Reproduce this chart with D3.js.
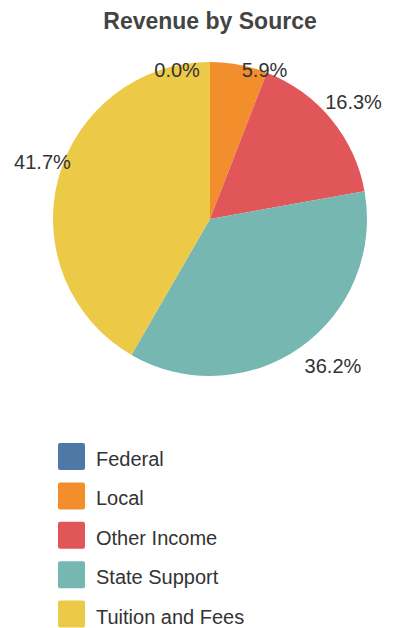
<!DOCTYPE html>
<html lang="en">
<head>
<meta charset="utf-8">
<title>Revenue by Source</title>
<script src="https://d3js.org/d3.v7.min.js"></script>
<style>
  body { margin: 0; background: #fff; }
  svg text { font-family: "Liberation Sans", Arial, sans-serif; fill: #333; }
</style>
</head>
<body>
<script>
var sources = ["Federal", "Local", "Other Income", "State Support", "Tuition and Fees"];
var shares = [0.0, 5.9, 16.3, 36.2, 41.7];
var colors = ["#4e79a7", "#f28e2b", "#e15759", "#76b7b2", "#edc948"];

var width = 396, height = 628;
var cx = 210, cy = 219, radius = 157;

var svg = d3.select("body").append("svg")
    .attr("width", width)
    .attr("height", height);

svg.append("text")
    .attr("x", cx)
    .attr("y", 29)
    .attr("text-anchor", "middle")
    .style("font-size", "23px")
    .style("font-weight", "bold")
    .style("fill", "#444")
    .text("Revenue by Source");

var data = sources.map(function(s, i) { return {name: s, value: shares[i], color: colors[i]}; });

var pie = d3.pie().sort(null).value(function(d) { return d.value; });
var arc = d3.arc().innerRadius(0).outerRadius(radius);
var arcs = pie(data);

var g = svg.append("g").attr("transform", "translate(" + cx + "," + cy + ")");

g.selectAll("path")
    .data(arcs)
  .enter().append("path")
    .attr("d", arc)
    .attr("fill", function(d) { return d.data.color; });

// labels just outside the rim, pushed into the drawing area when they stick out
var labels = g.selectAll("text.lbl")
    .data(arcs)
  .enter().append("text")
    .attr("class", "lbl")
    .attr("text-anchor", "middle")
    .attr("dominant-baseline", "central")
    .style("font-size", "20px")
    .text(function(d) { return d.data.value.toFixed(1) + "%"; });

var minX = 14 - cx, maxX = 382 - cx, minY = -radius;
labels.each(function(d) {
  var bb = this.getBBox();
  var a = (d.startAngle + d.endAngle) / 2;
  var s = Math.sin(a), c = Math.cos(a);
  var px = (radius + 4) * s, py = -(radius + 4) * c;
  var side = s > 1e-6 ? 1 : -1;
  var x = px + side * (bb.width / 2 + 2);
  var y = py + (c > 0 ? -1 : 1) * 15;
  if (y - 8 < minY) {
    y = minY + 8;
    if (side < 0) x -= 8;
  }
  x = Math.max(minX + bb.width / 2, Math.min(maxX - bb.width / 2, x));
  d3.select(this).attr("x", x).attr("y", y);
});

var legend = svg.append("g").attr("transform", "translate(58,443)");
var row = legend.selectAll("g")
    .data(data)
  .enter().append("g")
    .attr("transform", function(d, i) { return "translate(0," + (i * 39.4) + ")"; });

row.append("rect")
    .attr("width", 27)
    .attr("height", 27)
    .attr("rx", 2)
    .attr("fill", function(d) { return d.color; });

row.append("text")
    .attr("x", 38)
    .attr("y", 16)
    .attr("dominant-baseline", "central")
    .style("font-size", "20px")
    .text(function(d) { return d.name; });
</script>
</body>
</html>
